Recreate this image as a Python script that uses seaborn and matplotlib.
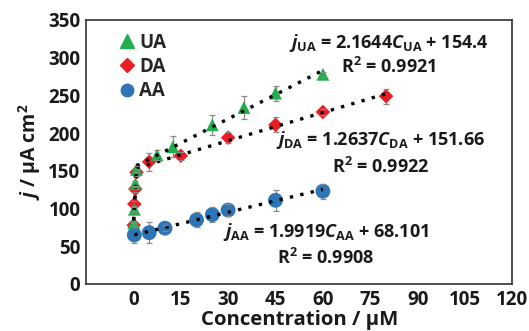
import numpy as np
import pandas as pd
import matplotlib
matplotlib.use("Agg")
import matplotlib.pyplot as plt
import seaborn as sns

# Current density (j, uA cm^-2) vs concentration (uM) for each analyte
ua_conc = [0.1, 0.3, 0.6, 1.0, 7.5, 12.5, 25, 35, 45, 60]
ua_j = [81, 99, 133, 152, 171, 182, 211, 234, 253, 278]
ua_err = [3, 4, 4, 4, 6, 14, 13, 15, 10, 3]

da_conc = [0.1, 0.3, 0.6, 1.0, 5, 15, 30, 45, 60, 80]
da_j = [78, 106, 126, 148, 162, 170, 194, 211, 228, 249]
da_err = [3, 4, 4, 5, 12, 5, 7, 10, 4, 10]

aa_conc = [0.3, 5, 10, 20, 25, 30, 45, 60]
aa_j = [65, 68, 74, 85, 92, 98, 111, 123]
aa_err = [10, 14, 4, 10, 10, 8, 14, 10]

species = ["UA", "DA", "AA"]
colors = {"UA": "#22ad4c", "DA": "#ec1c24", "AA": "#2e75b6"}
markers = {"UA": "^", "DA": "D", "AA": "o"}
marker_sizes = {"UA": 85, "DA": 55, "AA": 115}

# split between the low- and high-concentration linear ranges
low_cut = 1.0

x_ticks = [0, 15, 30, 45, 60, 75, 90, 105, 120]
y_ticks = [0, 50, 100, 150, 200, 250, 300, 350]

equations = {
    "UA": (r"$\mathit{j}_{\mathrm{UA}}$ = 2.1644$\mathit{C}_{\mathrm{UA}}$ + 154.4", r"R$^{2}$ = 0.9921"),
    "DA": (r"$\mathit{j}_{\mathrm{DA}}$ = 1.2637$\mathit{C}_{\mathrm{DA}}$ + 151.66", r"R$^{2}$ = 0.9922"),
    "AA": (r"$\mathit{j}_{\mathrm{AA}}$ = 1.9919$\mathit{C}_{\mathrm{AA}}$ + 68.101", r"R$^{2}$ = 0.9908"),
}

# rows are drawn in order, so DA sits beneath UA where they overlap near zero
frames = []
for name, c, j, e in [("DA", da_conc, da_j, da_err),
                      ("UA", ua_conc, ua_j, ua_err),
                      ("AA", aa_conc, aa_j, aa_err)]:
    frames.append(pd.DataFrame({"conc": c, "j": j, "err": e, "species": name}))
df = pd.concat(frames, ignore_index=True)

sns.set_style("white")
font = "Open Sans"
plt.rcParams["font.family"] = [font, "DejaVu Sans"]
plt.rcParams["font.weight"] = "bold"
plt.rcParams["mathtext.fontset"] = "custom"
plt.rcParams["mathtext.rm"] = f"{font}:bold"
plt.rcParams["mathtext.it"] = f"{font}:italic:bold"
plt.rcParams["mathtext.bf"] = f"{font}:bold"

fig = plt.figure(figsize=(5.29, 3.31), dpi=100)
ax = fig.add_axes([0.1626, 0.142, 0.806, 0.7976])

# dotted linear fits: steep low range and the wider high range
dot = dict(color="black", linestyle=(0, (1, 2.2)), linewidth=2.4)
for name in species:
    sub = df[df.species == name]
    high = sub[sub.conc >= low_cut - 1e-9] if name != "AA" else sub
    sns.regplot(data=high, x="conc", y="j", scatter=False, ci=None,
                truncate=True, line_kws=dot, ax=ax)
    low = sub[sub.conc <= low_cut]
    if name != "AA" and len(low) > 1:
        sns.regplot(data=low, x="conc", y="j", scatter=False, ci=None,
                    truncate=True, line_kws=dot, ax=ax)

# error bars
for name in species:
    sub = df[df.species == name]
    ax.errorbar(sub.conc, sub.j, yerr=sub.err, fmt="none", ecolor="#8a8a8a",
                elinewidth=0.9, capsize=2.2, capthick=0.9, zorder=2)

sns.scatterplot(data=df, x="conc", y="j", hue="species", style="species",
                hue_order=species, style_order=species, palette=colors,
                markers=markers, size="species", sizes=marker_sizes,
                linewidth=0, ax=ax, zorder=3, legend=False)

# redraw the fit dots on top of the markers
for line in ax.lines:
    line.set_zorder(4)

handles = [plt.Line2D([], [], marker=markers[n], color=colors[n], linestyle="none",
                      markersize={"UA": 9.5, "DA": 7.5, "AA": 9}[n]) for n in species]
ax.legend(handles, species, loc="upper left", bbox_to_anchor=(0.035, 1.015),
          frameon=False, handletextpad=0.15, labelspacing=0.22, handlelength=1.0,
          prop={"family": font, "weight": "bold", "size": 13.5})

ax.set_xlim(-15, 120)
ax.set_ylim(0, 350)
ax.set_xticks(x_ticks)
ax.set_yticks(y_ticks)
ax.tick_params(direction="in", length=4, width=1, color="#404040",
               labelsize=13.5, pad=4)
for lab in ax.get_xticklabels() + ax.get_yticklabels():
    lab.set_fontweight("bold")
    lab.set_color("#1a1a1a")
for s in ax.spines.values():
    s.set_color("#404040")
    s.set_linewidth(1.3)

ax.set_xlabel("Concentration / μM", fontsize=14.7, fontweight="bold", labelpad=0,
              color="#1a1a1a")
ax.set_ylabel(r"$\mathit{j}$ / μA cm$^{2}$", fontsize=14, fontweight="bold",
              labelpad=4, color="#1a1a1a")

text_kw = dict(fontsize=13, fontweight="bold", ha="center", va="center",
               color="#1a1a1a", transform=ax.transAxes)
pos = {"UA": (0.709, 0.913, 0.822), "DA": (0.69, 0.545, 0.443), "AA": (0.562, 0.197, 0.098)}
for name in species:
    xa, y1, y2 = pos[name]
    eq, r2 = equations[name]
    ax.text(xa, y1, eq, **text_kw)
    ax.text(xa, y2, r2, **text_kw)

fig.savefig("out.png", dpi=100)
